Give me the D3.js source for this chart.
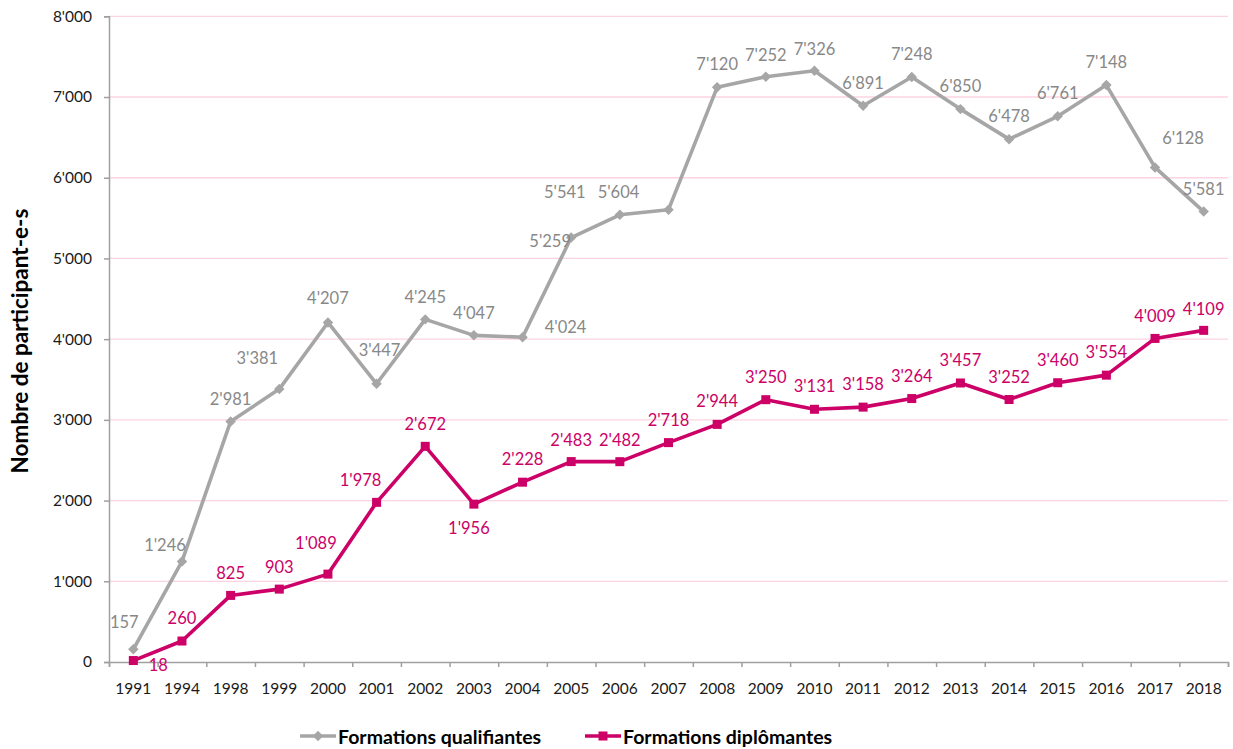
<!DOCTYPE html>
<html>
<head>
<meta charset="utf-8">
<script src="https://cdn.jsdelivr.net/npm/d3@7.9.0/dist/d3.min.js"></script>
<style>
  html, body { margin: 0; padding: 0; background: #fff; }
  svg { display: block; font-family: Lato, "Open Sans", sans-serif; }
</style>
</head>
<body>
<svg id="chart" width="1233" height="749"></svg>
<script>
// ====== DATA ======

const years = ['1991', '1994', '1998', '1999', '2000', '2001', '2002', '2003', '2004', '2005',
  '2006', '2007', '2008', '2009', '2010', '2011', '2012', '2013', '2014', '2015', '2016', '2017', '2018'];

const qualifiantes = [157, 1246, 2981, 3381, 4207, 3447, 4245, 4047, 4024, 5259,
  5541, 5604, 7120, 7252, 7326, 6891, 7248, 6850, 6478, 6761, 7148, 6128, 5581];

const diplomantes = [18, 260, 825, 903, 1089, 1978, 2672, 1956, 2228, 2483,
  2482, 2718, 2944, 3250, 3131, 3158, 3264, 3457, 3252, 3460, 3554, 4009, 4109];

const yTicks = [0, 1000, 2000, 3000, 4000, 5000, 6000, 7000, 8000];

const seriesNames = ['Formations qualifiantes', 'Formations diplômantes'];

// label placement (dx, dy from the marker), as Excel left them
const labelShiftQ = [[-9, -27], [-17, -16], [0, -22], [-22, -31], [0, -24], [3, -34], [0, -22], [0, -22],
  [43, -10], [-21, 3], [-55, -23], [-50, -18], [0, -23], [0, -22], [0, -22], [0, -23], [0, -23],
  [0, -23], [0, -23], [0, -23], [0, -23], [28, -29], [0, -23]];
const labelShiftD = [[25, 4], [0, -23], [0, -22], [0, -22], [-12, -31], [-16, -22], [0, -22], [-5, 24],
  [0, -23], [0, -22], [0, -22], [0, -23], [0, -23], [0, -23], [0, -23], [0, -23], [0, -23],
  [0, -23], [0, -23], [0, -23], [0, -23], [0, -22], [0, -21]];

// ====== CONFIG ======

const GREY = '#a6a6a6';
const GREY_TEXT = '#888888';
const PINK = '#cc0066';
const GRID = '#fcd3e2';
const AXIS = '#a0a0a0';

const fmt = d3.formatLocale({ decimal: '.', thousands: "'", grouping: [3], currency: ['', ''] }).format(',');

const svg = d3.select('#chart');

const x = d3.scaleBand().domain(years).range([109, 1228]).paddingInner(0).paddingOuter(0);
const xIdx = d3.scaleLinear().domain([0, years.length]).range([109, 1228]);
const y = d3.scaleLinear().domain([0, 8000]).range([662, 16.3]);

const cx = (d, i) => x(years[i]) + x.bandwidth() / 2;

// ====== GRID ======

svg.append('g')
  .selectAll('line')
  .data(yTicks.filter((d) => d > 0))
  .join('line')
  .attr('x1', 109)
  .attr('x2', 1228)
  .attr('y1', (d) => y(d))
  .attr('y2', (d) => y(d))
  .attr('stroke', GRID)
  .attr('stroke-width', 1.3);

// ====== AXES ======

const yAxis = svg.append('g')
  .attr('transform', 'translate(109,0)')
  .call(d3.axisLeft(y).tickValues(yTicks).tickFormat(fmt).tickSize(5).tickPadding(12));

const xTicks = svg.append('g')
  .attr('transform', 'translate(0,662)')
  .call(d3.axisBottom(xIdx).tickValues(d3.range(years.length + 1)).tickFormat('').tickSize(5));

const xAxis = svg.append('g')
  .attr('transform', 'translate(0,662)')
  .call(d3.axisBottom(x).tickSize(0).tickPadding(21));

[yAxis, xTicks, xAxis].forEach((g) => {
  g.select('.domain').attr('stroke', AXIS).attr('stroke-width', 1.5);
  g.selectAll('.tick line').attr('stroke', AXIS).attr('stroke-width', 1.5);
  g.selectAll('.tick text').attr('fill', '#1a1a1a').style('font-size', '15.5px').style('font-family', 'Lato, sans-serif');
});
xAxis.select('.domain').remove();

svg.append('text')
  .attr('transform', 'translate(19,341) rotate(-90)')
  .attr('text-anchor', 'middle')
  .attr('dominant-baseline', 'central')
  .style('font-size', '22.5px')
  .style('font-weight', 'bold')
  .attr('fill', '#000')
  .text('Nombre de participant-e-s');

// ====== SERIES ======

const line = d3.line().x(cx).y((d) => y(d));

function diamond(g, px, py, color) {
  g.append('path')
    .attr('d', d3.symbol(d3.symbolDiamond2, 70)())
    .attr('transform', `translate(${px},${py})`)
    .attr('fill', color);
}

svg.append('path')
  .datum(qualifiantes)
  .attr('d', line)
  .attr('fill', 'none')
  .attr('stroke', GREY)
  .attr('stroke-width', 3.6)
  .attr('stroke-linejoin', 'round');

const qMarks = svg.append('g');
qualifiantes.forEach((d, i) => diamond(qMarks, cx(d, i), y(d), GREY));

svg.append('path')
  .datum(diplomantes)
  .attr('d', line)
  .attr('fill', 'none')
  .attr('stroke', PINK)
  .attr('stroke-width', 3.6)
  .attr('stroke-linejoin', 'round');

svg.append('g')
  .selectAll('rect')
  .data(diplomantes)
  .join('rect')
  .attr('x', (d, i) => cx(d, i) - 4.5)
  .attr('y', (d) => y(d) - 4.5)
  .attr('width', 9)
  .attr('height', 9)
  .attr('fill', PINK);

// ====== DATA LABELS ======

function addLabels(values, shifts, color) {
  svg.append('g')
    .selectAll('text')
    .data(values)
    .join('text')
    .attr('x', (d, i) => cx(d, i) + shifts[i][0])
    .attr('y', (d, i) => y(d) + shifts[i][1])
    .attr('text-anchor', 'middle')
    .attr('dominant-baseline', 'central')
    .attr('fill', color)
    .style('font-size', '16.5px')
    .text((d) => fmt(d));
}

addLabels(qualifiantes, labelShiftQ, GREY_TEXT);
addLabels(diplomantes, labelShiftD, PINK);

// ====== LEGEND ======

const legend = svg.append('g');
const legendItems = [
  { name: seriesNames[0], color: GREY, x0: 300, marker: 'diamond' },
  { name: seriesNames[1], color: PINK, x0: 585, marker: 'square' },
];

legendItems.forEach((it) => {
  legend.append('line')
    .attr('x1', it.x0).attr('x2', it.x0 + 36)
    .attr('y1', 736).attr('y2', 736)
    .attr('stroke', it.color).attr('stroke-width', 3.6);
  if (it.marker === 'diamond') {
    diamond(legend, it.x0 + 18, 736, it.color);
  } else {
    legend.append('rect')
      .attr('x', it.x0 + 13.5).attr('y', 731.5)
      .attr('width', 9).attr('height', 9)
      .attr('fill', it.color);
  }
  legend.append('text')
    .attr('x', it.x0 + 38)
    .attr('y', 736)
    .attr('dominant-baseline', 'central')
    .style('font-size', '19.5px')
    .style('font-weight', 'bold')
    .attr('fill', '#000')
    .text(it.name);
});
</script>
</body>
</html>
